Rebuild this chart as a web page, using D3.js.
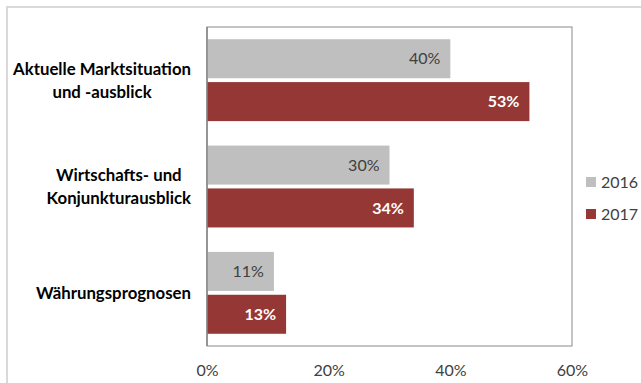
<!DOCTYPE html>
<html><head><meta charset="utf-8">
<script src="https://cdn.jsdelivr.net/npm/d3@7"></script>
<style>body{margin:0;background:#fff;}svg{display:block;font-family:Lato,"Open Sans",sans-serif;}</style>
</head><body>
<svg id="c" width="641" height="383"></svg>
<script>
const categories = [["Aktuelle Marktsituation","und -ausblick"],["Wirtschafts- und","Konjunkturausblick"],["Währungsprognosen"]];
const seriesNames = ["2016","2017"];
const values2016 = [40, 30, 11];
const values2017 = [53, 34, 13];
const tickValues = [0, 20, 40, 60];
const colors = ["#bfbfbf", "#953735"];

const svg = d3.select("#c");
const W = 641, H = 383;
// outer frame
svg.append("path").attr("d", `M7,${H} V7 H${W}`).attr("fill","none").attr("stroke","#d9d9d9").attr("stroke-width",2);

const m = {left:207, right:572, top:27, bottom:346};
const x = d3.scaleLinear().domain([0,60]).range([m.left, m.right]);
const keys = categories.map((c,i)=>i);
const y0 = d3.scaleBand().domain(keys).range([m.top, m.bottom]).paddingInner(0.23).paddingOuter(0.115);
const y1 = d3.scaleBand().domain([0,1]).range([0, y0.bandwidth()]).paddingInner(0.09);

// plot area border
svg.append("rect").attr("x",m.left).attr("y",m.top).attr("width",m.right-m.left).attr("height",m.bottom-m.top)
  .attr("fill","none").attr("stroke","#8a8a8a").attr("stroke-width",1);

const data = keys.map(i => [values2016[i], values2017[i]]);
const g = svg.append("g");
keys.forEach(i => {
  data[i].forEach((v, s) => {
    const yy = y0(i) + y1(s);
    g.append("rect").attr("x", x(0)).attr("y", yy).attr("width", x(v)-x(0)).attr("height", y1.bandwidth()).attr("fill", colors[s]);
    g.append("text").attr("x", x(v)-10).attr("y", yy + y1.bandwidth()/2).attr("dy","0.35em")
      .attr("text-anchor","end").attr("font-size",16)
      .attr("font-weight", s===1 ? "bold" : "normal")
      .attr("fill", s===1 ? "#ffffff" : "#404040")
      .text(v + "%");
  });
});

// left axis line
svg.append("line").attr("x1",m.left).attr("x2",m.left).attr("y1",m.top).attr("y2",m.bottom).attr("stroke","#868686").attr("stroke-width",1.5);

// x axis
const xAxis = d3.axisBottom(x).tickValues(tickValues).tickFormat(d=>d+"%").tickSize(0).tickPadding(0);
const ax = svg.append("g").attr("transform",`translate(0,${m.bottom})`).call(xAxis);
ax.select(".domain").remove();
ax.selectAll("text").attr("font-size",16).attr("fill","#404040").attr("font-family","Lato,sans-serif").attr("y",24).attr("dy","0.35em");

// category labels
const blockRight = 191;
keys.forEach(i => {
  const lines = categories[i];
  const cy = y0(i) + y0.bandwidth()/2;
  const lh = 23;
  const tg = svg.append("g");
  const texts = lines.map((l, k) => tg.append("text").attr("font-size",16.8).attr("font-weight","bold").attr("fill","#000")
    .attr("dy","0.35em").attr("y", cy + (k - (lines.length-1)/2)*lh).attr("text-anchor","middle").text(l));
  const maxW = d3.max(texts, t => t.node().getComputedTextLength());
  texts.forEach(t => t.attr("x", blockRight - maxW/2));
});

// legend
const leg = svg.append("g");
seriesNames.forEach((n, s) => {
  const ly = 182 + s*32;
  leg.append("rect").attr("x",586).attr("y",ly-5).attr("width",10).attr("height",10).attr("fill",colors[s]);
  leg.append("text").attr("x",601).attr("y",ly).attr("dy","0.35em").attr("font-size",16).attr("fill","#404040").text(n);
});
</script>
</body></html>
